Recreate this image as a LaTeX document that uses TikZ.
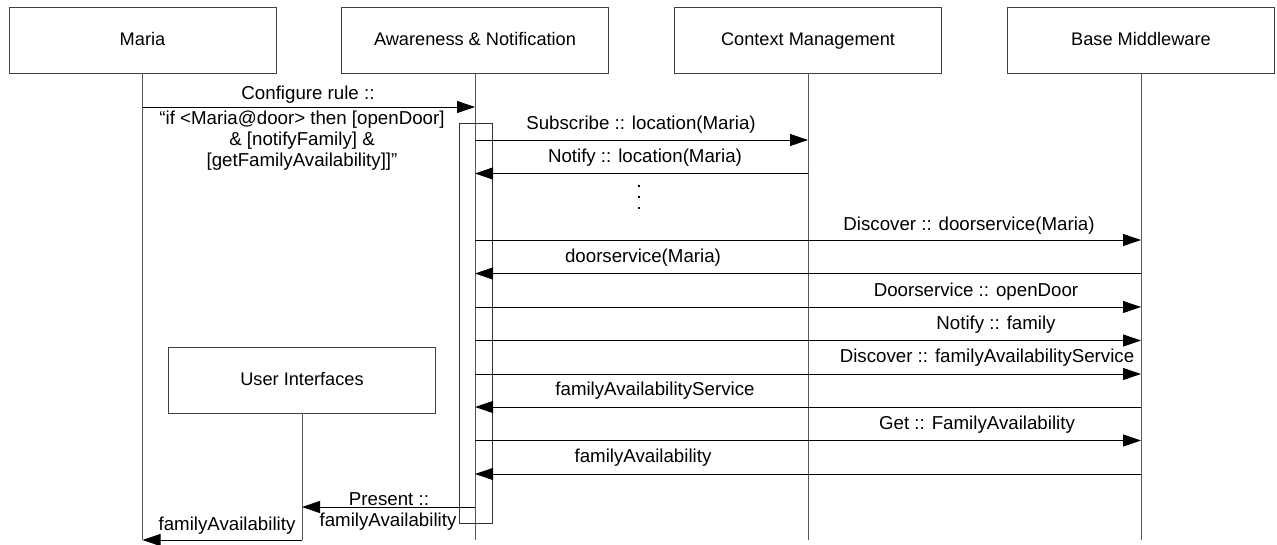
\documentclass[tikz,border=0pt]{standalone}
\usepackage{fontspec}
\setmainfont{Liberation Sans}
\usetikzlibrary{arrows.meta}
\newcommand\seqfont{\fontsize{18.2}{21}\selectfont}
\newcommand\msgfont{\fontsize{18.7}{21}\selectfont}
\begin{document}
\begin{tikzpicture}[x=1pt,y=-1pt,
  actor/.style={draw=black!75, line width=0.9pt, minimum width=267pt,
    minimum height=66pt, inner sep=0pt, font=\seqfont,
    text height=13pt, text depth=3pt},
  lifeline/.style={draw=black!65, line width=0.9pt},
  activation/.style={draw=black!80, line width=0.9pt, minimum width=33pt,
    minimum height=400pt, inner sep=0pt},
  msg/.style={draw=black, line width=0.9pt, -{Triangle[length=18pt,width=12pt]}},
  lbl/.style={font=\msgfont, inner sep=0pt, align=center},
  ellipsisdot/.style={fill=black, rectangle, minimum size=2.6pt, inner sep=0pt}]
\useasboundingbox (0,0) rectangle (1277,544);

% participants
\node[actor] (maria) at (142.5,40) {Maria};
\node[actor] (aware) at (475,40) {Awareness \& Notification};
\node[actor] (ctx)   at (808,40) {Context Management};
\node[actor] (base)  at (1141,40) {Base Middleware};
\node[actor] (ui)    at (302,380) {User Interfaces};

% message rows
\coordinate (r1) at (0,107);
\coordinate (r2) at (0,140);
\coordinate (r3) at (0,173.5);
\coordinate (r4) at (0,240);
\coordinate (r5) at (0,273.5);
\coordinate (r6) at (0,307);
\coordinate (r7) at (0,340.5);
\coordinate (r8) at (0,374);
\coordinate (r9) at (0,407);
\coordinate (r10) at (0,440.5);
\coordinate (r11) at (0,474);
\coordinate (r12) at (0,507);
\coordinate (r13) at (0,540);

% lifelines
\draw[lifeline] (maria.south) -- (maria.south |- r13);
\draw[lifeline] (aware.south) -- (aware.south |- r13);
\draw[lifeline] (ctx.south) -- (ctx.south |- r13);
\draw[lifeline] (base.south) -- (base.south |- r13);
\draw[lifeline] (ui.south) -- (ui.south |- r13);

% activation bar
\node[activation] (act) at (475.5,323) {};

% messages
\draw[msg] (maria.south |- r1) -- (aware.south |- r1);
\draw[msg] (aware.south |- r2) -- (ctx.south |- r2);
\draw[msg] (ctx.south |- r3) -- (aware.south |- r3);
\draw[msg] (aware.south |- r4) -- (base.south |- r4);
\draw[msg] (base.south |- r5) -- (aware.south |- r5);
\draw[msg] (aware.south |- r6) -- (base.south |- r6);
\draw[msg] (aware.south |- r7) -- (base.south |- r7);
\draw[msg] (aware.south |- r8) -- (base.south |- r8);
\draw[msg] (base.south |- r9) -- (aware.south |- r9);
\draw[msg] (aware.south |- r10) -- (base.south |- r10);
\draw[msg] (base.south |- r11) -- (aware.south |- r11);
\draw[msg] (aware.south |- r12) -- (ui.south |- r12);
\draw[msg] (ui.south |- r13) -- (maria.south |- r13);

% message labels
\node[lbl] (l1a) at (308,95) {Configure rule ::};
\node[lbl] (l1b) at (302,141) {“if <Maria@door> then {[openDoor]}\\{\& [notifyFamily] \&}\\{[getFamilyAvailability]]”}};
\node[lbl] (l2) at (641,125) {Subscribe :: location(Maria)};
\node[lbl] (l3) at (645,158) {Notify :: location(Maria)};
\node[lbl] (l4) at (969,226) {Discover :: doorservice(Maria)};
\node[lbl] (l5) at (643,258) {doorservice(Maria)};
\node[lbl] (l6) at (976,292) {Doorservice :: openDoor};
\node[lbl] (l7) at (996,325) {Notify :: family};
\node[lbl] (l8) at (987,358) {Discover :: familyAvailabilityService};
\node[lbl] (l9) at (655,391) {familyAvailabilityService};
\node[lbl] (l10) at (977,425) {Get :: FamilyAvailability};
\node[lbl] (l11) at (643,458) {familyAvailability};
\node[lbl] (l12a) at (389,499) {Present ::};
\node[lbl, fill=white] (l12b) at (388,522) {familyAvailability};
\node[lbl] (l13) at (227,526) {familyAvailability};

% continuation marks
\node[ellipsisdot] (d1) at (639,186) {};
\node[ellipsisdot] (d2) at (639,197) {};
\node[ellipsisdot] (d3) at (639,208) {};
\end{tikzpicture}
\end{document}
